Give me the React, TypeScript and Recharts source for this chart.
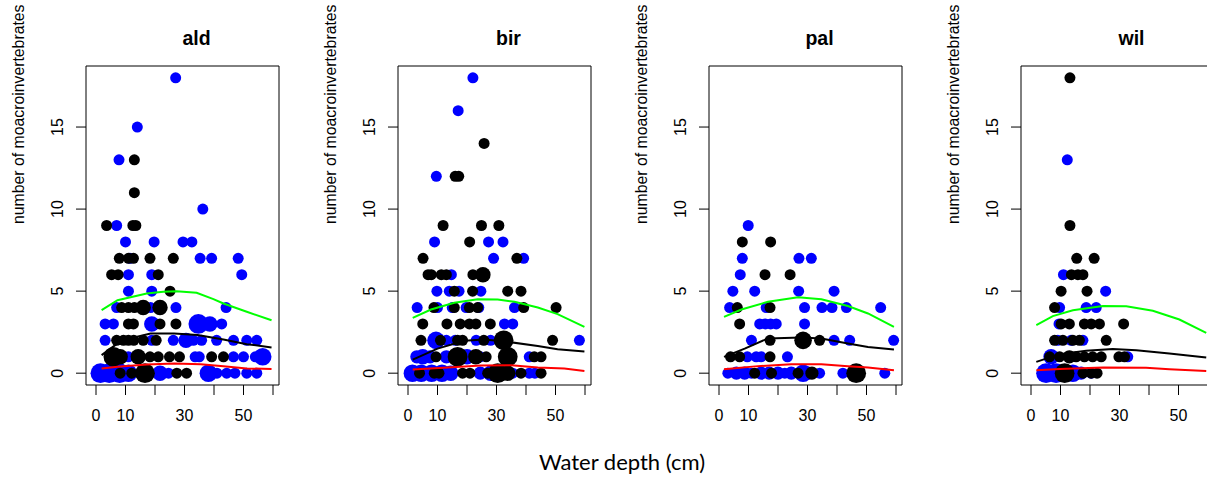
import { ScatterChart, Scatter, XAxis, YAxis, ReferenceArea } from "recharts";

// [depth, count, size]
const aldBlue = [
  [27, 18, 1], [14, 15, 1], [7.8, 13, 1], [36.2, 10, 1], [7, 9, 1], [10, 8, 1], [19.7, 8, 1], [29.5, 8, 1], [32.5, 8, 1],
  [11.5, 7, 1], [35.3, 7, 1], [39.2, 7, 1], [48.2, 7, 1], [11, 6, 1], [18.9, 6, 1], [49.4, 6, 1], [11, 5, 1], [18.9, 5, 1],
  [7, 4, 1], [18.5, 4, 1], [27.1, 4, 1], [44.1, 4, 1],
  [3.1, 3, 1], [5.9, 3, 1], [18.9, 3, 2], [34.7, 3, 3], [38.6, 3, 2], [42.6, 3, 1],
  [3.1, 2, 1], [18.9, 2, 1], [26.2, 2, 1], [30.5, 2, 2], [33, 2, 1], [35.8, 2, 1], [40.9, 2, 1], [46.6, 2, 1], [51.1, 2, 1], [54.5, 2, 1],
  [11, 1, 1], [33.6, 1, 1], [35, 1, 1], [46.6, 1, 1], [50, 1, 1], [54, 1, 1], [56.5, 1, 2.5],
  [1.5, 0, 3], [4.5, 0, 3], [8, 0, 3], [11, 0, 2.5], [21.7, 0, 2], [24.6, 0, 1], [38.1, 0, 2.5], [41, 0, 1], [44.3, 0, 1], [47.1, 0, 1], [51.1, 0, 1], [54.5, 0, 1],
];
const aldBlack = [
  [13, 13, 1], [13, 11, 1], [3.6, 9, 1], [12.5, 9, 1], [13.5, 9, 1],
  [7.9, 7, 1], [11, 7, 1], [12.7, 7, 1], [18.3, 7, 1], [26.2, 7, 1],
  [5.3, 6, 1], [7.5, 6, 1], [21.1, 6, 1], [25.1, 5, 1],
  [8.7, 4, 1], [11, 4, 1], [13, 4, 1], [16, 4, 2], [21.7, 4, 2],
  [11, 3, 1], [12.7, 3, 1], [21.7, 3, 1], [27.1, 3, 1],
  [7, 2, 1], [9.3, 2, 1], [11, 2, 1], [12.8, 2, 1], [16, 2, 1], [20.4, 2, 1],
  [5.9, 1, 3], [8.2, 1, 2], [14.3, 1, 2], [18.3, 1, 1], [21.1, 1, 1], [24.9, 1, 1], [28.3, 1, 1], [39.2, 1, 1], [43.2, 1, 1],
  [8.2, 0, 1], [12.1, 0, 1], [16.6, 0, 3], [27.4, 0, 1], [30.7, 0, 1],
];
const aldGreen = [[1.9, 3.84], [7.3, 4.45], [17.2, 4.86], [22.8, 4.96], [27.3, 5.0], [34.1, 4.9], [39.8, 4.51], [43.2, 4.25], [51.1, 3.74], [59.5, 3.23]];
const aldDark = [[1.9, 1.1], [7.3, 1.81], [12.9, 2.18], [18.5, 2.42], [26.5, 2.42], [34.4, 2.32], [43.2, 2.05], [51.1, 1.77], [59.5, 1.57]];
const aldRed = [[1.9, 0.29], [7.3, 0.39], [17.2, 0.53], [26.5, 0.59], [35.5, 0.55], [43.2, 0.43], [51.1, 0.29], [59.5, 0.25]];

const birBlue = [
  [22, 18, 1], [17, 16, 1], [9.6, 12, 1], [9, 8, 1], [27.3, 8, 1], [32.2, 8, 1], [29, 7, 1], [39.2, 7, 1], [14.7, 6, 1],
  [9.8, 5, 1], [14, 5, 1], [17.3, 5, 1], [24.7, 5, 1],
  [3.1, 4, 1], [10, 4, 1], [15, 4, 1], [19.7, 4, 1], [24, 4, 1], [36.1, 4, 1],
  [32.7, 3, 1], [35.5, 3, 1],
  [9.5, 2, 2.5], [13, 2, 1], [16, 2, 1], [23.1, 2, 1], [28, 2, 1], [58.1, 2, 1],
  [3, 1, 1.5], [5, 1, 2], [7.5, 1, 1.5], [13, 1, 1.5], [20, 1, 2], [24.5, 1, 1], [41.1, 1, 1],
  [1.5, 0, 2.5], [4.5, 0, 2.5], [8, 0, 2.5], [11.5, 0, 2.5], [14.5, 0, 2], [24.5, 0, 1.5], [28, 0, 2], [35.5, 0, 1], [41.1, 0, 1], [43, 0, 1],
];
const birBlack = [
  [25.8, 14, 1], [16, 12, 1], [17.2, 12, 1], [11.9, 9, 1], [24.9, 9, 1], [30.8, 9, 1], [20.9, 8, 1], [5.1, 7, 1], [36.9, 7, 1],
  [6.8, 6, 1], [7.9, 6, 1], [11.3, 6, 1], [13, 6, 1], [22, 6, 1], [25.4, 6, 2],
  [15.7, 5, 1], [21.9, 5, 1], [33.8, 5, 1], [38.3, 5, 1],
  [8.8, 4, 1], [15.7, 4, 1], [20.8, 4, 1], [23.6, 4, 1], [39.2, 4, 1], [50.2, 4, 1],
  [5, 3, 1], [13.2, 3, 1], [17.7, 3, 1], [20.8, 3, 1], [23, 3, 1], [27.9, 3, 1],
  [4.4, 2, 1], [11, 2, 1], [16.8, 2, 1], [18.5, 2, 1], [25.7, 2, 1], [32.4, 2, 3], [49, 2, 1],
  [9.5, 1, 1], [16.8, 1, 3], [23, 1, 2], [26.5, 1, 1], [33.8, 1, 3], [42.8, 1, 1], [45.1, 1, 1],
  [3.9, 0, 1], [8.9, 0, 1], [10.5, 0, 1], [18.5, 0, 1], [21, 0, 1], [27, 0, 1], [30.4, 0, 3], [33.8, 0, 2], [38.3, 0, 1], [45.1, 0, 1],
];
const birGreen = [[1.6, 3.37], [7.8, 3.88], [15.7, 4.29], [23.6, 4.51], [30.4, 4.49], [36.1, 4.35], [44, 4.0], [50.7, 3.6], [59.8, 2.82]];
const birDark = [[1.6, 0.83], [10, 1.5], [19.1, 1.97], [25.9, 2.05], [33.8, 1.91], [44, 1.65], [50.7, 1.46], [59.8, 1.32]];
const birRed = [[1.6, 0.22], [13.5, 0.35], [24.8, 0.47], [35, 0.49], [44, 0.35], [53, 0.29], [59.8, 0.14]];

const palBlue = [
  [9.9, 9, 1], [7.9, 7, 1], [27.1, 7, 1], [31.3, 7, 1], [7.2, 6, 1],
  [4.7, 5, 1], [12.1, 5, 1], [27, 5, 1], [39, 5, 1],
  [3.6, 4, 1], [16, 4, 1], [29, 4, 1], [34.9, 4, 1], [38.3, 4, 1], [43.2, 4, 1], [54.8, 4, 1],
  [13.8, 3, 1], [15.7, 3, 1], [17.5, 3, 1], [19.4, 3, 1], [29, 3, 1],
  [11, 2, 1], [39, 2, 1], [44.3, 2, 1], [59.2, 2, 1],
  [9.6, 1, 1], [12.6, 1, 1], [14.3, 1, 1], [23.2, 1, 1],
  [3, 0, 1], [5.9, 0, 1.5], [8.7, 0, 1.5], [11, 0, 1], [14.3, 0, 1.5], [17, 0, 1.5], [20, 0, 1.5], [22.3, 0, 1], [24.5, 0, 1.5], [28.5, 0, 2.5], [30.2, 0, 1.5], [34.1, 0, 1], [42, 0, 1], [56.2, 0, 1],
];
const palBlack = [
  [7.9, 8, 1], [17.5, 8, 1], [15.6, 6, 1], [24.1, 6, 1],
  [6.2, 4, 1], [17.3, 4, 1], [7, 3, 1],
  [17.3, 2, 1], [28.5, 2, 2.5], [34.1, 2, 1],
  [3.9, 1, 1], [7, 1, 1], [17.3, 1, 1],
  [12.1, 0, 1], [17.8, 0, 1], [26.8, 0, 1], [31.5, 0, 1.5], [46.5, 0, 3],
];
const palGreen = [[1.7, 3.43], [7.6, 3.88], [16.6, 4.35], [26.8, 4.62], [34.7, 4.51], [43.7, 4.09], [50.5, 3.64], [59.3, 2.82]];
const palDark = [[1.7, 0.99], [8.7, 1.5], [16.6, 2.12], [27.9, 2.18], [34.7, 2.12], [43.7, 1.81], [50.5, 1.6], [59.3, 1.44]];
const palRed = [[1.7, 0.24], [13.2, 0.43], [24.5, 0.55], [34.7, 0.55], [43.7, 0.43], [50.5, 0.35], [59.3, 0.18]];

const wilBlue = [
  [12.3, 13, 1], [11, 6, 1], [25.3, 5, 1], [9.7, 4, 1], [18.7, 4, 1], [22.1, 4, 1],
  [9.5, 3, 1], [9.1, 2, 1], [13.6, 2, 1], [17.6, 2, 1],
  [6.8, 1, 2], [32.8, 1, 1],
  [5.1, 0, 3], [8.5, 0, 3], [14.2, 0, 2.5], [17, 0, 1.5], [20.4, 0, 1],
];
const wilBlack = [
  [13.2, 18, 1], [13.2, 9, 1], [15.5, 7, 1], [21.4, 7, 1], [13.7, 6, 1], [15.9, 6, 1], [17.6, 6, 1],
  [10.2, 5, 1], [19, 5, 1], [8, 4, 1],
  [10.2, 3, 1], [13, 3, 1], [18.1, 3, 1], [20.4, 3, 1], [23.2, 3, 1], [31.4, 3, 1],
  [8, 2, 1], [10.8, 2, 1], [14.2, 2, 1], [16.4, 2, 1], [25.5, 2, 1],
  [6.3, 1, 1], [9.7, 1, 1], [13, 1, 1.5], [15.3, 1, 1], [18.1, 1, 1], [20.9, 1, 1], [23.8, 1, 1], [29.8, 1, 1], [31.7, 1, 1],
  [11.4, 0, 3], [17.6, 0, 1], [20.4, 0, 1], [22.4, 0, 1],
];
const wilGreen = [[1.8, 2.93], [7.4, 3.48], [14.2, 3.84], [24.4, 4.1], [32.3, 4.08], [41.3, 3.8], [50.3, 3.27], [59.4, 2.46]];
const wilDark = [[1.8, 0.69], [9.7, 1.16], [18.7, 1.36], [27.7, 1.48], [35.7, 1.4], [46.9, 1.2], [59.4, 0.96]];
const wilRed = [[1.8, 0.18], [9.7, 0.26], [24.4, 0.35], [39, 0.33], [46.9, 0.24], [59.4, 0.14]];

const xTicks = [0, 10, 20, 30, 40, 50, 60];
const xLabels = [0, 10, 30, 50];
const yTicks = [0, 5, 10, 15];
const panelOffsets = [0, 312, 623, 935];

const panels = [
  { title: "ald", blue: aldBlue, black: aldBlack, green: aldGreen, dark: aldDark, red: aldRed },
  { title: "bir", blue: birBlue, black: birBlack, green: birGreen, dark: birDark, red: birRed },
  { title: "pal", blue: palBlue, black: palBlack, green: palGreen, dark: palDark, red: palRed },
  { title: "wil", blue: wilBlue, black: wilBlack, green: wilGreen, dark: wilDark, red: wilRed },
];

const X_DOM = [-3.39, 62.03];
const Y_DOM = [-0.72, 18.72];
const FONT = "'Liberation Sans', Arial, Helvetica, sans-serif";
const radius = (s) => 3.3 + 2.2 * s;

const pts = (arr) => arr.map(([x, y, s]) => ({ x, y, s }));
const curve = (arr) => arr.map(([x, y]) => ({ x, y }));

const Dot = (color) => (props) => {
  const { cx, cy, payload } = props;
  if (cx == null || cy == null) return <g />;
  return <circle cx={cx} cy={cy} r={radius(payload.s)} fill={color} />;
};
const NoDot = () => <g />;

const XTick = ({ x, y, payload }) => {
  if (!xLabels.includes(payload.value)) return <g />;
  return (
    <text x={x} y={y + 24} textAnchor="middle" fontSize={16} fontFamily={FONT} fill="#000">
      {payload.value}
    </text>
  );
};

const YTick = ({ y, payload }) => (
  <text x={63} y={y} transform={`rotate(-90, 63, ${y})`} textAnchor="middle" fontSize={16} fontFamily={FONT} fill="#000">
    {payload.value}
  </text>
);

const Panel = ({ p, left }) => (
  <div style={{ position: "absolute", left, top: 0 }}>
    <ScatterChart width={311} height={477} margin={{ top: 66, right: 32, bottom: 0, left: 0 }}>
      <XAxis
        type="number"
        dataKey="x"
        domain={X_DOM}
        ticks={xTicks}
        allowDataOverflow
        height={92}
        axisLine={false}
        tickLine={{ stroke: "#000" }}
        tickSize={10}
        tick={<XTick />}
      />
      <YAxis
        type="number"
        dataKey="y"
        domain={Y_DOM}
        ticks={yTicks}
        allowDataOverflow
        width={86}
        axisLine={false}
        tickLine={{ stroke: "#000" }}
        tickSize={10}
        tick={<YTick />}
      />
      <Scatter data={pts(p.blue)} fill="#0000ff" shape={Dot("#0000ff")} isAnimationActive={false} />
      <Scatter data={pts(p.black)} fill="#000000" shape={Dot("#000000")} isAnimationActive={false} />
      <Scatter data={curve(p.green)} line={{ stroke: "#00ff00", strokeWidth: 2 }} shape={NoDot} isAnimationActive={false} />
      <Scatter data={curve(p.dark)} line={{ stroke: "#000000", strokeWidth: 2 }} shape={NoDot} isAnimationActive={false} />
      <Scatter data={curve(p.red)} line={{ stroke: "#ff0000", strokeWidth: 2 }} shape={NoDot} isAnimationActive={false} />
      <ReferenceArea x1={X_DOM[0]} x2={X_DOM[1]} y1={Y_DOM[0]} y2={Y_DOM[1]} fill="none" stroke="#000" strokeWidth={1} fillOpacity={0} />
    </ScatterChart>
  </div>
);

export default function App() {
  return (
    <div style={{ position: "absolute", left: 0, top: 0, width: 1207, height: 477, overflow: "hidden", background: "#fff" }}>
      {panels.map((p, i) => (
        <Panel key={p.title} p={p} left={panelOffsets[i]} />
      ))}
      <svg width={1207} height={477} style={{ position: "absolute", left: 0, top: 0, pointerEvents: "none" }}>
        {panels.map((p, i) => (
          <g key={p.title}>
            <text x={panelOffsets[i] + 196.5} y={45} textAnchor="middle" fontSize={19.5} fontWeight="bold" fontFamily={FONT} fill="#000">
              {p.title}
            </text>
            <text
              x={panelOffsets[i] + 24}
              y={224}
              transform={`rotate(-90, ${panelOffsets[i] + 24}, 224)`}
              textAnchor="start"
              fontSize={15.8}
              fontFamily={FONT}
              fill="#000"
            >
              number of moacroinvertebrates
            </text>
          </g>
        ))}
        <text x={622} y={470} textAnchor="middle" fontSize={22} fontFamily="Lato, 'Open Sans', sans-serif" fill="#000">
          Water depth (cm)
        </text>
      </svg>
    </div>
  );
}
